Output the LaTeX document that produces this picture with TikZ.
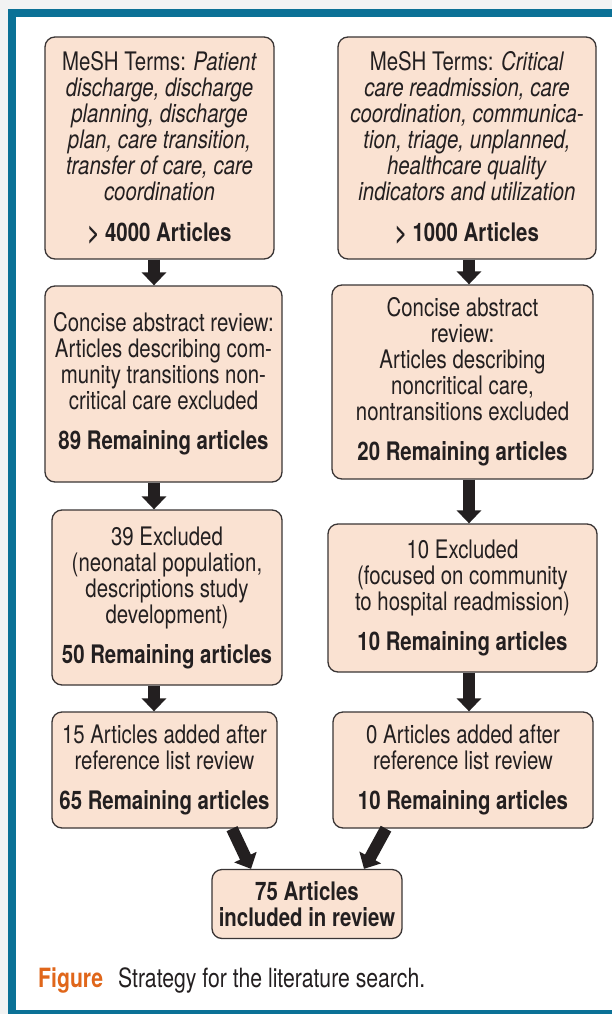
\documentclass[tikz,border=0pt]{standalone}
\usepackage{fontspec}
\setmainfont{TeX Gyre Heros}[FakeStretch=0.8]
\usetikzlibrary{arrows.meta}
\definecolor{bggray}{HTML}{F2F3F3}
\definecolor{teal}{HTML}{0B7196}
\definecolor{peach}{HTML}{FAE2D2}
\definecolor{boxline}{HTML}{3A3535}
\definecolor{ink}{HTML}{231F20}
\definecolor{figorange}{HTML}{E0661A}
\begin{document}
\begin{tikzpicture}[x=1pt,y=-1pt,
  box/.style={draw=boxline, fill=peach, line width=1.3pt, rounded corners=10pt,
    align=center, inner sep=0pt, text=ink, font=\fontsize{25.5}{26}\selectfont},
  barrow/.style={draw=ink, line width=12pt, -{Triangle[width=24pt,length=13pt]}}]
\useasboundingbox (0,0) rectangle (612,1014);
\fill[bggray] (0,0) rectangle (612,1014);
\fill[teal] (8,9) rectangle (612,1014);
\fill[white] (16,17) rectangle (612,1010);

% left column
\node[box, minimum width=229pt, minimum height=222pt] (L1) at (159.5,148)
 {MeSH Terms: \textit{Patient}\\ \textit{discharge, discharge}\\ \textit{planning, discharge}\\ \textit{plan, care transition,}\\ \textit{transfer of care, care}\\ \textit{coordination}\\[15pt] \textbf{> 4000 Articles}};
\node[box, minimum width=237pt, minimum height=196pt] (L2) at (163.5,384)
 {Concise abstract review:\\ Articles describing com-\\ munity transitions non-\\ critical care excluded\\[14pt] \textbf{89 Remaining articles}};
\node[box, minimum width=230pt, minimum height=175pt] (L3) at (167,597.5)
 {39 Excluded\\ (neonatal population,\\ descriptions study\\ development)\\[14pt] \textbf{50 Remaining articles}};
\node[box, minimum width=225pt, minimum height=116pt] (L4) at (164.5,770)
 {15 Articles added after\\ reference list review\\[14pt] \textbf{65 Remaining articles}};

% right column
\node[box, minimum width=258pt, minimum height=222pt] (R1) at (467,148)
 {MeSH Terms: \textit{Critical}\\ \textit{care readmission, care}\\ \textit{coordination, communica-}\\ \textit{tion, triage, unplanned,}\\ \textit{healthcare quality}\\ \textit{indicators and utilization}\\[15pt] \textbf{> 1000 Articles}};
\node[box, minimum width=261pt, minimum height=194pt] (R2) at (462.5,382)
 {Concise abstract\\ review:\\ Articles describing\\ noncritical care,\\ nontransitions excluded\\[14pt] \textbf{20 Remaining articles}};
\node[box, minimum width=269pt, minimum height=148pt] (R3) at (462.5,598)
 {10 Excluded\\ (focused on community\\ to hospital readmission)\\[14pt] \textbf{10 Remaining articles}};
\node[box, minimum width=260pt, minimum height=116pt] (R4) at (463,770)
 {0 Articles added after\\ reference list review\\[14pt] \textbf{10 Remaining articles}};

% final
\node[box, minimum width=190pt, minimum height=69pt] (F) at (307,904)
 {\textbf{75 Articles}\\ \textbf{included in review}};

% arrows
\coordinate (lx) at (154,0);
\coordinate (rx) at (469,0);
\coordinate (la) at (232,0);
\coordinate (lb) at (251,0);
\coordinate (ra) at (386,0);
\coordinate (rb) at (364,0);
\draw[barrow] (L1.south -| lx) -- (L2.north -| lx);
\draw[barrow] (L2.south -| lx) -- (L3.north -| lx);
\draw[barrow] (L3.south -| lx) -- (L4.north -| lx);
\draw[barrow] (R1.south -| rx) -- (R2.north -| rx);
\draw[barrow] (R2.south -| rx) -- (R3.north -| rx);
\draw[barrow] (R3.south -| rx) -- (R4.north -| rx);
\draw[barrow] (L4.south -| la) -- (F.north -| lb);
\draw[barrow] (R4.south -| ra) -- (F.north -| rb);

% caption
\node[anchor=base west, inner sep=0pt, font=\fontsize{26.5}{28}\selectfont] (cap) at (38,987)
 {\textcolor{figorange}{\bfseries Figure}\hspace{15pt}\textcolor{ink}{Strategy for the literature search.}};
\end{tikzpicture}
\end{document}
